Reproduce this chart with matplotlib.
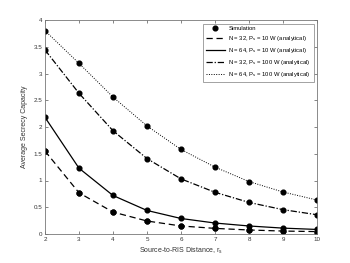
import matplotlib
matplotlib.use("Agg")
import matplotlib.pyplot as plt

plt.rcParams['font.family'] = ['Liberation Sans', 'DejaVu Sans']
plt.rcParams['mathtext.fontset'] = 'custom'
plt.rcParams['mathtext.rm'] = 'Liberation Sans'
plt.rcParams['mathtext.it'] = 'Liberation Sans'

distance = [2, 3, 4, 5, 6, 7, 8, 9, 10]
n32_p10 = [1.55, 0.77, 0.41, 0.243, 0.15, 0.105, 0.075, 0.055, 0.045]
n64_p10 = [2.18, 1.23, 0.72, 0.44, 0.29, 0.205, 0.15, 0.11, 0.085]
n32_p100 = [3.44, 2.63, 1.93, 1.41, 1.03, 0.78, 0.59, 0.455, 0.36]
n64_p100 = [3.80, 3.19, 2.56, 2.02, 1.58, 1.25, 0.98, 0.785, 0.635]

labels = ['N = 32, P$_s$ = 10 W (analytical)',
          'N = 64, P$_s$ = 10 W (analytical)',
          'N = 32, P$_s$ = 100 W (analytical)',
          'N = 64, P$_s$ = 100 W (analytical)']

fig = plt.figure(figsize=(3.5, 2.63), dpi=100)
ax = fig.add_axes([45/350, 1-234/263, (317-45)/350, (234-20)/263])

series = [n32_p10, n64_p10, n32_p100, n64_p100]
styles = [(0, (5, 3)), '-', (0, (5, 1.5, 1, 1.5)), (0, (1, 1.5))]
widths = [0.9, 0.9, 0.9, 0.7]
ax.plot(distance, n32_p10, 'o', color='black', markersize=3.4, label='Simulation')
for s, ls, w, lab in zip(series, styles, widths, labels):
    ax.plot(distance, s, color='black', linestyle=ls, linewidth=w, label=lab)
for s in series:
    ax.plot(distance, s, 'o', color='black', markersize=3.4)

ax.set_xlim(2, 10)
ax.set_ylim(0, 4)
ax.set_xticks(range(2, 11))
ax.set_yticks([0, 0.5, 1, 1.5, 2, 2.5, 3, 3.5, 4])
ax.set_yticklabels(['0', '0.5', '1', '1.5', '2', '2.5', '3', '3.5', '4'])
ax.tick_params(direction='in', top=True, right=True, labelsize=4.5, length=2.5,
               width=0.5, colors='#555555', labelcolor='#333333', pad=2)
for sp in ax.spines.values():
    sp.set_color('#777777')
    sp.set_linewidth(0.6)

ax.set_xlabel('Source-to-RIS Distance, r$_s$', fontsize=5, color='#333333', labelpad=3)
ax.set_ylabel('Average Secrecy Capacity', fontsize=5, color='#333333', labelpad=4)

leg = ax.legend(loc='upper right', fontsize=4.2, frameon=True, fancybox=False,
                edgecolor='#777777', handlelength=3.2, borderpad=0.5,
                labelspacing=0.5, handletextpad=0.6, borderaxespad=0.6)
leg.get_frame().set_linewidth(0.6)

fig.savefig('out.png', dpi=100)
